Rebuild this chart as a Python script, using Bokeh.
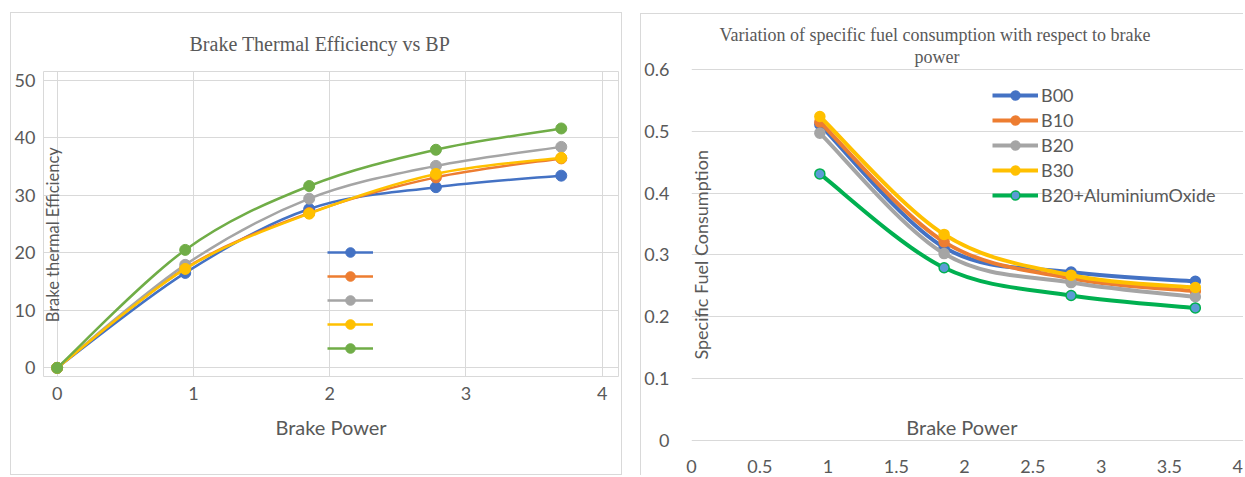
import math
from bokeh.plotting import figure
from bokeh.models import Legend, LegendItem, Label, Range1d, FixedTicker, Title
from bokeh.layouts import row
from bokeh.embed import file_html
from bokeh.resources import INLINE

# ---------------- data ----------------
series_names = ["B00", "B10", "B20", "B30", "B20+AluminiumOxide"]

bp_bte = [0, 0.94, 1.85, 2.78, 3.70]
bte_b00 = [0, 16.5, 27.6, 31.4, 33.4]
bte_b10 = [0, 17.3, 26.9, 33.1, 36.4]
bte_b20 = [0, 17.9, 29.4, 35.1, 38.4]
bte_b30 = [0, 17.2, 26.8, 33.7, 36.5]
bte_b20al = [0, 20.5, 31.6, 37.9, 41.6]

bp_sfc = [0.94, 1.85, 2.78, 3.69]
sfc_b00 = [0.511, 0.312, 0.272, 0.257]
sfc_b10 = [0.515, 0.321, 0.262, 0.241]
sfc_b20 = [0.497, 0.302, 0.255, 0.232]
sfc_b30 = [0.524, 0.333, 0.267, 0.247]
sfc_b20al = [0.431, 0.279, 0.234, 0.214]

bte_ticks_x = [0, 1, 2, 3, 4]
bte_ticks_y = [0, 10, 20, 30, 40, 50]
sfc_ticks_x = [0, 0.5, 1, 1.5, 2, 2.5, 3, 3.5, 4]
sfc_ticks_y = [0, 0.1, 0.2, 0.3, 0.4, 0.5, 0.6]

left_colors = ["#4472C4", "#ED7D31", "#A5A5A5", "#FFC000", "#70AD47"]
right_colors = ["#4472C4", "#ED7D31", "#A5A5A5", "#FFC000", "#00B050"]
right_fill = ["#4472C4", "#ED7D31", "#A5A5A5", "#FFC000", "#5B9BD5"]

TXT = "#595959"
GRID = "#d9d9d9"
SANS = "Lato"
SERIF = "Liberation Serif"


def smooth(x, y, t=1/6):
    """Bezier control points (Excel-like smoothed line) from the data points."""
    n = len(x)
    d = {k: [] for k in ("x0", "y0", "x1", "y1", "cx0", "cy0", "cx1", "cy1")}
    for i in range(n - 1):
        i0, i3 = max(i - 1, 0), min(i + 2, n - 1)
        d["x0"].append(x[i]); d["y0"].append(y[i])
        d["x1"].append(x[i + 1]); d["y1"].append(y[i + 1])
        d["cx0"].append(x[i] + (x[i + 1] - x[i0]) * t)
        d["cy0"].append(y[i] + (y[i + 1] - y[i0]) * t)
        d["cx1"].append(x[i + 1] - (x[i3] - x[i]) * t)
        d["cy1"].append(y[i + 1] - (y[i3] - y[i]) * t)
    return d


def style_axes(p, font_size):
    for ax in (p.xaxis, p.yaxis):
        ax.axis_line_color = None
        ax.major_tick_line_color = None
        ax.minor_tick_line_color = None
        ax.major_label_text_color = TXT
        ax.major_label_text_font = SANS
        ax.major_label_text_font_size = font_size


# ---------------- left chart ----------------
p1 = figure(width=612, height=463, x_range=Range1d(-0.1, 4.12), y_range=Range1d(-1.5, 51.5),
            output_backend="svg", toolbar_location=None, frame_align=False,
            min_border_left=27, min_border_right=5, min_border_top=57, min_border_bottom=100,
            margin=(12, 0, 0, 10))
p1.title.text = "Brake Thermal Efficiency vs BP"
p1.title.align = "left"
p1.title.offset = 146
p1.title.text_font = SERIF
p1.title.text_font_size = "20px"
p1.title.text_font_style = "normal"
p1.title.text_color = TXT
p1.title.standoff = 34
style_axes(p1, "18px")
p1.xaxis.ticker = FixedTicker(ticks=bte_ticks_x)
p1.yaxis.ticker = FixedTicker(ticks=bte_ticks_y)
p1.xaxis.major_label_standoff = 4
p1.yaxis.major_label_standoff = 2
p1.xaxis.axis_label = "Brake Power"
p1.xaxis.axis_label_text_font = SANS
p1.xaxis.axis_label_text_font_size = "20px"
p1.xaxis.axis_label_text_font_style = "normal"
p1.xaxis.axis_label_text_color = TXT
p1.xaxis.axis_label_standoff = 12
p1.xgrid.grid_line_color = GRID
p1.ygrid.grid_line_color = GRID
p1.outline_line_color = GRID
p1.styles = {"border": "1px solid #d9d9d9", "box-sizing": "border-box"}

left_series = [bte_b00, bte_b10, bte_b20, bte_b30, bte_b20al]
items1 = []
for name, ys, c in zip(series_names, left_series, left_colors):
    d = smooth(bp_bte, ys)
    rl = p1.bezier(x0="x0", y0="y0", x1="x1", y1="y1", cx0="cx0", cy0="cy0", cx1="cx1", cy1="cy1",
                   source=d, line_color=c, line_width=2.5)
    rs = p1.scatter(bp_bte, ys, size=11, fill_color=c, line_color=c)
    items1.append(LegendItem(label=" ", renderers=[rl, rs]))

p1.add_layout(Label(x=-0.03, y=23.5, text="Brake  thermal Efficiency", angle=math.pi / 2,
                    text_align="center", text_baseline="middle", text_font=SANS,
                    text_font_size="16.5px", text_color=TXT))

leg1 = Legend(items=items1, location=(284, 16), glyph_width=46, glyph_height=24, label_height=24,
              spacing=0, padding=0, margin=0, label_standoff=0, background_fill_alpha=0,
              border_line_color=None, label_text_font_size="1px")
p1.add_layout(leg1, "center")

# ---------------- right chart ----------------
p2 = figure(width=603, height=462, x_range=Range1d(0, 4.05), y_range=Range1d(-0.0186, 0.605),
            output_backend="svg", toolbar_location=None, frame_align=False,
            min_border_left=48, min_border_right=0, min_border_top=52, min_border_bottom=25,
            margin=(13, 0, 0, 18))
style_axes(p2, "18px")
p2.xaxis.ticker = FixedTicker(ticks=sfc_ticks_x)
p2.yaxis.ticker = FixedTicker(ticks=sfc_ticks_y)
p2.xaxis.major_label_standoff = 2
p2.yaxis.major_label_standoff = 16
p2.xgrid.grid_line_color = None
p2.ygrid.grid_line_color = GRID
p2.outline_line_color = None
p2.styles = {"border-left": "1px solid #d9d9d9", "border-top": "1px solid #d9d9d9",
             "box-sizing": "border-box"}

# two-line title: second line first (closest to the plot), then first line above it
p2.add_layout(Title(text="power", align="left", offset=223, standoff=0,
                    text_font=SERIF, text_font_size="18px", text_font_style="normal",
                    text_color=TXT), "above")
p2.add_layout(Title(text="Variation of specific fuel consumption with respect to brake",
                    align="left", offset=28, standoff=0,
                    text_font=SERIF, text_font_size="18px", text_font_style="normal",
                    text_color=TXT), "above")

right_series = [sfc_b00, sfc_b10, sfc_b20, sfc_b30, sfc_b20al]
items2 = []
for name, ys, c, fc in zip(series_names, right_series, right_colors, right_fill):
    d = smooth(bp_sfc, ys)
    rl = p2.bezier(x0="x0", y0="y0", x1="x1", y1="y1", cx0="cx0", cy0="cy0", cx1="cx1", cy1="cy1",
                   source=d, line_color=c, line_width=4)
    rs = p2.scatter(bp_sfc, ys, size=10, fill_color=fc, line_color=c, line_width=1.5)
    items2.append(LegendItem(label=name, renderers=[rl, rs]))

p2.add_layout(Label(x=0.066, y=0.30, text="Specific Fuel Consumption", angle=math.pi / 2,
                    text_align="center", text_baseline="middle", text_font=SANS,
                    text_font_size="18px", text_color=TXT))
p2.add_layout(Label(x=1.98, y=0.002, text="Brake Power",
                    text_align="center", text_baseline="bottom", text_font=SANS,
                    text_font_size="20px", text_color=TXT))

leg2 = Legend(items=items2, location=(301, 245), glyph_width=46, glyph_height=22, label_height=22,
              spacing=3, padding=0, margin=0, label_standoff=3, background_fill_alpha=0,
              border_line_color=None, label_text_font=SANS, label_text_font_size="18px",
              label_text_color=TXT)
p2.add_layout(leg2, "center")

layout = row(p1, p2)
open("out.html", "w").write(file_html(layout, INLINE))
